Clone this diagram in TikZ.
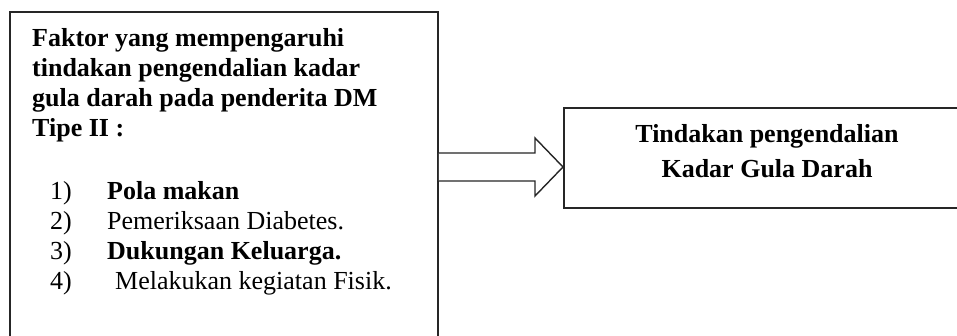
\documentclass[tikz,border=0pt]{standalone}
\usepackage{fontspec}
\setmainfont{Liberation Serif}
\begin{document}
\begin{tikzpicture}[x=1pt,y=-1pt,
  boxstyle/.style={draw=black!85,line width=1.8pt,inner sep=0pt},
  txt/.style={inner sep=0pt,font=\fontsize{26}{30}\selectfont},
  btxt/.style={txt,font=\fontsize{26}{30}\selectfont\bfseries},
  arrowline/.style={draw=black!85,line width=1.4pt,line join=miter,fill=white}]
\useasboundingbox (0,0) rectangle (957,336);
\clip (0,0) rectangle (957,336);
% boxes
\node[boxstyle,anchor=north west,minimum width=428pt,minimum height=360pt] (factors) at (9,11) {};
\node[boxstyle,anchor=north west,minimum width=409pt,minimum height=100pt] (tindakan) at (563,107) {};
% arrow
\coordinate (tip) at (tindakan.west |- 0,167);
\coordinate (tail) at (factors.east |- 0,167);
\draw[arrowline] ([yshift=-14pt]tail) -- ([xshift=-28pt,yshift=-14pt]tip) -- ([xshift=-28pt,yshift=-29pt]tip) -- (tip)
  -- ([xshift=-28pt,yshift=29pt]tip) -- ([xshift=-28pt,yshift=14pt]tip) -- ([yshift=14pt]tail);
% left text
\node[btxt,anchor=base west] (t1) at (32,47) {Faktor yang mempengaruhi};
\node[btxt,anchor=base west] (t2) at (32,77) {tindakan pengendalian kadar};
\node[btxt,anchor=base west] (t3) at (32,107) {gula darah pada penderita DM};
\node[btxt,anchor=base west] (t4) at (32,137) {Tipe II :};
\node[txt,anchor=base west] (n1) at (50,200) {1)};
\node[txt,anchor=base west] (n2) at (50,230) {2)};
\node[txt,anchor=base west] (n3) at (50,260) {3)};
\node[txt,anchor=base west] (n4) at (50,290) {4)};
\node[btxt,anchor=base west] (i1) at (107,200) {Pola makan};
\node[txt,anchor=base west] (i2) at (107,230) {Pemeriksaan Diabetes.};
\node[btxt,anchor=base west] (i3) at (107,260) {Dukungan Keluarga.};
\node[txt,anchor=base west] (i4) at (115,290) {Melakukan kegiatan Fisik.};
% right text
\node[btxt,anchor=base] (r1) at (767,143) {Tindakan pengendalian};
\node[btxt,anchor=base] (r2) at (767,178) {Kadar Gula Darah};
\end{tikzpicture}
\end{document}
